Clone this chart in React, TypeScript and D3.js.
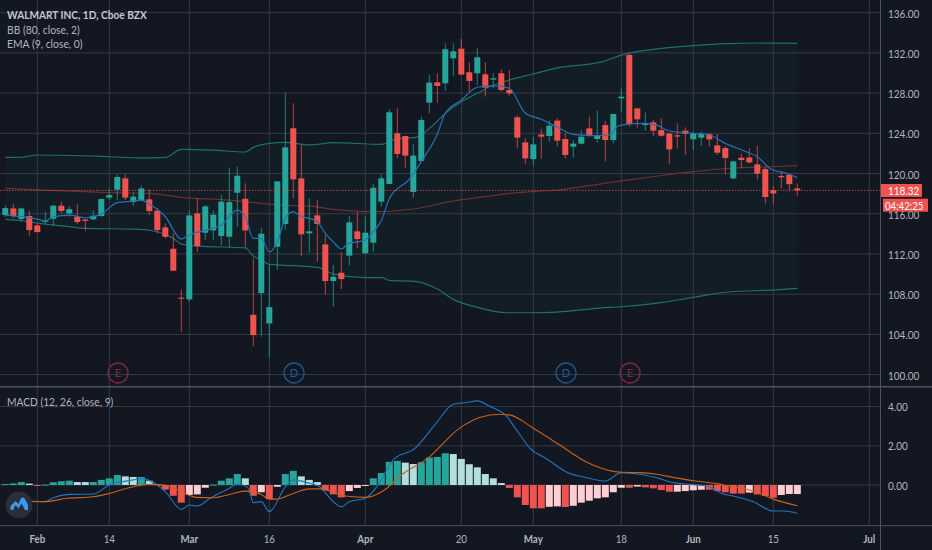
import React from "react";
import * as d3 from "d3";

const WIDTH = 932;
const HEIGHT = 550;
const PANE_RIGHT = 880.5;

const priceTicks = [136, 132, 128, 124, 120, 116, 112, 108, 104, 100];
const macdTicks = [4, 2, 0];
const timeTicks: [number, string, boolean][] = [
  [4, "Feb", true], [13, "14", false], [23, "Mar", true], [33, "16", false],
  [45, "Apr", true], [57, "20", false], [66, "May", true], [77, "18", false],
  [86, "Jun", true], [96, "15", false], [108, "Jul", true],
];

// open, high, low, close per trading day
const candles: [number, number, number, number][] = [
  [115.87,116.86,115.7,116.56],[116.53,117.03,115.54,115.77],[115.47,116.63,115.2,116.53],[115.77,116.3,113.8,114.37],
  [114.84,114.97,114.1,114.18],[115.2,116.2,115.0,115.3],[115.5,116.86,114.77,116.8],[116.8,117.2,116.0,116.27],
  [116.03,116.76,115.7,116.46],[115.7,116.96,114.97,115.17],[115.44,115.44,114.3,115.3],[115.44,116.36,115.37,115.8],
  [115.77,117.5,115.7,117.46],[117.6,118.5,117.36,117.86],[118.39,119.9,117.36,119.65],[119.52,119.95,117.36,117.6],
  [117.16,118.2,116.76,117.7],[117.36,118.8,117.26,118.52],[117.43,118.42,115.87,116.27],[116.3,116.53,114.04,114.37],
  [114.64,115.04,113.55,113.71],[112.52,114.04,110.33,110.33],[107.65,108.47,104.26,107.55],[107.48,116.3,107.24,115.83],
  [116.03,117.53,112.2,112.78],[114.11,116.86,113.38,116.73],[114.34,116.3,113.38,115.9],[113.78,117.86,112.88,117.2],
  [113.71,120.6,112.65,117.16],[118.09,120.68,114.7,119.78],[117.49,119.02,112.72,114.34],[105.95,111.56,102.83,103.93],
  [108.11,114.54,103.76,114.01],[105.09,110.89,101.77,106.71],[112.72,119.22,110.4,119.22],[114.98,128.04,114.38,122.6],
  [124.5,126.98,117.53,119.42],[119.52,122.84,111.83,113.95],[114.05,117.53,112.12,114.25],[115.84,117.37,111.23,114.98],
  [112.95,113.88,108.0,109.3],[109.3,110.9,106.75,109.73],[110.13,112.16,108.5,109.5],[111.83,115.77,110.9,115.14],
  [114.25,116.2,112.56,113.48],[112.06,115.7,112.06,114.11],[113.12,119.0,112.2,118.59],[117.2,119.95,116.7,119.52],
  [118.96,126.4,118.96,126.09],[124,126.5,121.5,121.94],[123.73,123.73,120.58,121.78],[118.16,122.9,117.6,121.78],
  [121.24,125.66,121.24,125.32],[127.05,129.8,125.99,129.04],[129.07,129.97,127.05,128.71],[128.97,132.95,128.2,132.36],
  [131.46,132.95,129.7,132.16],[132.42,133.38,129.84,129.84],[130.07,131.06,128.08,129.21],[129.97,132.46,128.8,131.56],
  [129.87,131.06,127.65,128.54],[129.34,129.97,128.48,129.47],[129.97,130.37,128.14,128.31],[128.31,130.3,127.75,127.98],
  [125.59,125.79,122.5,123.57],[123.1,123.5,121.0,121.51],[121.44,123.67,120.85,122.9],[123.87,124.43,121.5,123.67],
  [123.73,125.3,123.17,124.76],[125.26,125.5,122.7,123.27],[123.43,124,121.5,121.84],[122.67,123.33,121.57,122.97],
  [122.97,124.32,122.9,123.66],[124.49,125.65,123.66,123.73],[123.43,126.25,123.1,123.76],[124.82,125.22,121.24,123.33],
  [123.33,125.92,123,125.92],[127.48,128.47,126.15,127.64],[131.79,131.95,124.66,124.92],[126.48,126.48,124.56,125.39],
  [124.82,126.08,124.26,125],[125.09,125.32,123.73,124.26],[124.32,125.49,123.66,123.76],[123.99,123.99,120.94,122.4],
  [123.8,124.99,122.5,123.68],[124.26,124.59,121.84,123.93],[123.4,124.16,122.34,124],[123.56,124.16,122.73,123.93],
  [123.93,124.06,122.67,123.4],[122.8,123.93,121.84,122.07],[122.53,122.73,119.91,121.54],[119.52,121.27,119.42,121.21],
  [121.57,122,120.5,121.34],[121.6,122.5,121,121.11],[120.91,122.73,119.42,119.98],[120.44,120.68,117.03,117.66],
  [118.35,118.75,117.03,118.02],[119.75,120.18,118.52,119.62],[119.88,120,118.3,118.95],[118.52,119,117.76,118.32],
];
const lastPrice = 118.32;

// [bar index, value]
const bbUpper: [number, number][] = [
  [0,121.6],[2,121.62],[4,121.84],[13,121.67],[17,121.55],[20,121.6],[22,122.4],[26,122.33],[30,122.14],[31,122.6],
  [33,123],[35,123.1],[38,122.84],[41,123.07],[47,122.9],[49,123.45],[51.3,123.6],[53.5,124.83],[55,126],[57,127.15],
  [59,127.98],[61,128.8],[63,129.3],[66,129.9],[69,130.5],[74.5,131.1],[77.5,131.9],[81.5,132.4],[86,132.72],[90.2,132.92],[94.3,132.98],[99,132.95],
];
const bbLower: [number, number][] = [
  [0,115.44],[2,115.3],[5,114.97],[8,114.71],[10,114.54],[16,114.47],[19,114.21],[21,113.55],[22,112.98],[24,112.78],
  [30,112.6],[31,111.8],[32,111.4],[33,110.96],[36,110.83],[39,110.67],[41,110],[45,109.64],[47,109.64],[48,109.37],
  [51.2,109.27],[54,108.51],[56,107.48],[59,106.69],[62.7,106.15],[66,106.15],[69,106.22],[74.3,106.62],[77,106.75],
  [81.9,107.15],[86,107.68],[90.6,108.24],[96,108.41],[99,108.58],
];
const bbBasis: [number, number][] = [
  [0,118.52],[5,118.35],[13,118.09],[18,118.02],[22,117.63],[28,117.36],[32,117.03],[35,116.83],[38,116.76],[41,116.44],
  [46,116.2],[51,116.47],[55.6,117.2],[60,117.7],[64,118.1],[69,118.36],[73.5,118.85],[77.7,119.35],[81.8,119.78],
  [86,120.18],[90.2,120.5],[94.3,120.64],[99,120.78],
];
const ema: [number, number][] = [
  [0,115.87],[2,115.7],[4,115.47],[5,115.3],[6,115.7],[8,115.87],[10,115.6],[12,115.97],[14,117.1],[16,117.26],[17,117.36],
  [18,116.96],[20,115.7],[22,113.48],[23,113.88],[25,114.37],[27,114.87],[29,116.36],[30,115.7],[31,113.55],[32,113.55],
  [33,112.2],[34,113.2],[35,115.54],[36,116.2],[37,115.7],[38,115.54],[39,115.2],[40,114.05],[41,113.2],[42,112.5],
  [43,113.1],[44,113.2],[45,113.4],[46,114.2],[47,115.3],[48,117.5],[50.6,119.52],[52,121.18],[54,123.9],[55,126],[57,127.3],
  [59,128.58],[61,128.71],[63,128.48],[65,126],[67,125.4],[69,124.6],[71,123.9],[73.5,123.76],[75.5,123.83],[76.6,124.72],
  [77.7,124.9],[79.7,124.99],[81.4,124.82],[83,124.23],[86,124],[87.7,123.93],[90,123],[92.6,122.17],[94,121.67],[95.6,120.5],[97.7,120],[99,119.6],
];

const histValues = [
  0.05,0.08,0.15,0.07,-0.03,0.02,0.14,0.19,0.22,0.15,0.15,0.15,0.26,0.34,0.51,0.44,0.41,0.41,0.22,0.05,
  -0.24,-0.55,-0.9,-0.51,-0.48,-0.14,0.02,0.22,0.34,0.56,0.34,-0.55,-0.37,-0.72,-0.09,0.56,0.72,0.44,0.26,0.15,
  -0.27,-0.48,-0.63,-0.31,-0.15,-0.02,0.34,0.61,1.18,1.23,1.14,1.07,1.16,1.4,1.43,1.62,1.58,1.33,1.06,0.9,
  0.56,0.34,0.1,-0.15,-0.63,-1.02,-1.19,-1.19,-1.11,-1.09,-1.12,-1.06,-0.9,-0.8,-0.68,-0.63,-0.37,-0.14,-0.14,-0.08,
  -0.12,-0.17,-0.26,-0.34,-0.34,-0.31,-0.27,-0.24,-0.24,-0.31,-0.37,-0.44,-0.44,-0.39,-0.48,-0.56,-0.65,-0.51,-0.46,-0.46,
];
// 1 = saturated bar, 0 = pale bar
const histStrong = [
  1,1,1,0,1,1,1,1,1,0,0,1,1,1,1,0,0,1,0,0,
  1,1,1,0,0,0,1,1,1,1,0,1,0,1,0,1,1,0,0,0,
  1,1,1,0,0,0,1,1,1,1,0,0,1,1,1,1,0,0,0,0,
  0,0,0,1,1,1,1,1,0,0,1,0,0,0,0,0,0,0,1,0,
  1,1,1,1,0,0,0,0,1,1,1,1,1,0,1,1,1,0,0,0,
];
const macdLine: [number, number][] = [
  [1,-0.8],[3.5,-0.85],[5,-0.85],[6,-0.65],[8,-0.48],[11,-0.46],[13,0],[16,0.26],[17,0.34],[19,0],[20,-0.34],[22,-1.24],
  [23,-1.02],[24,-1.07],[25.6,-0.68],[28,-0.17],[29,0.05],[30.4,-0.17],[31,-0.9],[32,-0.85],[33,-1.36],[35,-0.09],[36,0.26],
  [38,0.09],[39.3,-0.09],[40.6,-0.68],[42,-1.11],[43,-0.85],[45,-0.68],[46.6,0],[48.5,1.28],[51.2,1.87],[53.7,3.07],[56,4.12],
  [57.7,4.21],[59,4.29],[60.6,4.0],[62.7,3.49],[63.9,2.81],[65.6,1.87],[67.7,1.33],[70.2,0.65],[72.7,0.37],[75,0.2],[77,0.63],
  [79.3,0.55],[81.4,0.37],[83.5,0.12],[85.6,0.03],[87.7,-0.05],[89.75,-0.46],[91,-0.56],[93.5,-0.85],[96,-1.33],[97.25,-1.33],[99,-1.45],
];
const signalLine: [number, number][] = [
  [1,-0.82],[3.5,-0.83],[5,-0.85],[7.7,-0.68],[11,-0.6],[13,-0.43],[16,-0.09],[17.7,0.03],[19.8,0],[22,-0.34],[23.9,-0.63],
  [26,-0.65],[28.5,-0.43],[30,-0.31],[32,-0.48],[33,-0.72],[33.9,-0.72],[36,-0.43],[38,-0.2],[39.3,-0.2],[42.5,-0.56],[45.2,-0.63],
  [47.2,-0.31],[49.8,0.6],[52.7,1.33],[56.8,2.9],[59.3,3.44],[61.8,3.61],[63,3.58],[66,2.9],[69.3,2.04],[72.7,1.16],[75.2,0.77],
  [77,0.65],[79.3,0.63],[81.4,0.55],[83.5,0.39],[86,0.22],[88.9,0.07],[90.2,-0.03],[93.5,-0.31],[96,-0.72],[99,-1.06],
];

const eventMarks: [number, string][] = [[14, "E"], [36, "D"], [70, "D"], [78, "E"]];

const FONT = "Lato, 'Noto Sans', sans-serif";
const BG = "#131722";
const GRID = "#363a45";
const TEXT = "#b2b5be";
const RED = "#ef5350";
const GREEN = "#26a69a";
const PALE_RED = "#ffcdd2";
const PALE_GREEN = "#b2dfdb";

// Text with horizontal condensing, to match the reference's narrow face.
function T({ x, y, s, size = 11.5, sx = 0.87, anchor = "start", weight = 400, fill = TEXT }: any) {
  return (
    <text transform={`translate(${x},${y}) scale(${sx},1)`} fontSize={size} textAnchor={anchor} fontWeight={weight} fill={fill}>
      {s}
    </text>
  );
}

export default function App() {
  const x = d3.scaleLinear().domain([0, 99]).range([5.3, 797.3]);
  const y = d3.scaleLinear().domain([100, 124]).range([374.6, 133.3]);
  const ym = d3.scaleLinear().domain([0, 4]).range([485, 406.6]);

  const priceLine = d3.line<[number, number]>().x((d) => x(d[0])).y((d) => y(d[1])).curve(d3.curveMonotoneX);
  const macdPath = d3.line<[number, number]>().x((d) => x(d[0])).y((d) => ym(d[1])).curve(d3.curveMonotoneX);

  const up = priceLine(bbUpper) as string;
  const low = priceLine([...bbLower].reverse()) as string;
  const bandFill = up + "L" + low.slice(1) + "Z";

  return (
    <svg width={WIDTH} height={HEIGHT} style={{ position: "fixed", left: 0, top: 0, background: BG, fontFamily: FONT }}>
      <rect width={WIDTH} height={HEIGHT} fill={BG} />
      <path d={bandFill} fill={GREEN} opacity={0.04} />

      {/* grid */}
      {priceTicks.map((t) => (
        <line key={t} x1={0} x2={PANE_RIGHT} y1={y(t)} y2={y(t)} stroke={GRID} />
      ))}
      {macdTicks.map((t) => (
        <line key={t} x1={0} x2={PANE_RIGHT} y1={ym(t)} y2={ym(t)} stroke={GRID} />
      ))}
      {timeTicks.map(([i]) => (
        <line key={i} x1={x(i)} x2={x(i)} y1={0} y2={525.5} stroke={GRID} />
      ))}
      <line x1={0} x2={WIDTH} y1={386.7} y2={386.7} stroke="#50535e" strokeWidth={1.5} />
      <line x1={0} x2={WIDTH} y1={525.7} y2={525.7} stroke="#50535e" />
      <line x1={PANE_RIGHT} x2={PANE_RIGHT} y1={0} y2={HEIGHT} stroke="#50535e" />

      {/* Bollinger bands */}
      <path d={up} fill="none" stroke="#1f6f6b" strokeWidth={1.2} />
      <path d={priceLine(bbLower) as string} fill="none" stroke="#1f6f6b" strokeWidth={1.2} />
      <path d={priceLine(bbBasis) as string} fill="none" stroke="#6e2f33" strokeWidth={1.2} />

      {/* candles */}
      {candles.map(([o, h, l, c], i) => {
        const color = c >= o ? GREEN : RED;
        const top = y(Math.max(o, c));
        const bot = y(Math.min(o, c));
        return (
          <g key={i}>
            <line x1={x(i)} x2={x(i)} y1={y(h)} y2={y(l)} stroke={color} opacity={0.75} />
            <rect x={x(i) - 3} y={top} width={6} height={Math.max(bot - top, 1)} fill={color} />
          </g>
        );
      })}

      <path d={priceLine(ema) as string} fill="none" stroke="#2473b5" strokeWidth={1.2} />

      {/* last price line */}
      <line x1={0} x2={PANE_RIGHT} y1={y(lastPrice)} y2={y(lastPrice)} stroke={RED} strokeOpacity={0.7} strokeDasharray="1.5 1.5" />

      {/* events */}
      {eventMarks.map(([i, s], k) => {
        const col = s === "E" ? "#7d2b44" : "#1a5c94";
        return (
          <g key={k}>
            <circle cx={x(i) + 0.7} cy={373} r={10} fill="none" stroke={col} strokeWidth={1.3} />
            <text x={x(i) + 0.7} y={377} fontSize={11} textAnchor="middle" fill={col}>{s}</text>
          </g>
        );
      })}

      {/* MACD */}
      {histValues.map((v, i) => {
        const strong = histStrong[i] === 1;
        const color = v >= 0 ? (strong ? GREEN : PALE_GREEN) : strong ? RED : PALE_RED;
        const a = ym(Math.max(v, 0));
        const b = ym(Math.min(v, 0));
        return <rect key={i} x={x(i) - 3.5} y={a} width={7} height={Math.max(b - a, 1)} fill={color} />;
      })}
      <path d={macdPath(macdLine) as string} fill="none" stroke="#1f77c0" strokeWidth={1.1} />
      <path d={macdPath(signalLine) as string} fill="none" stroke="#c9621a" strokeWidth={1.1} />

      {/* logo */}
      <circle cx={19} cy={505} r={13.5} fill="#2a2e39" />
      <path d="M10.5 510 L10.5 506 L15.5 501 L18.5 504 L21 498.5 Q23 496.5 25 499 L28 505 L28 510 L25 510 L21.5 503.5 L18.5 508.5 L15.5 505 L13 510 Z" fill="#3a9bee" />

      {/* legends */}
      <T x={7} y={19} s="WALMART INC, 1D, Cboe BZX" sx={0.88} weight={700} fill="#c5c8d0" />
      <T x={7} y={33.5} s="BB (80, close, 2)" sx={0.9} />
      <T x={7} y={48} s="EMA (9, close, 0)" sx={0.9} />
      <T x={7} y={406} s="MACD (12, 26, close, 9)" sx={0.89} />

      {/* axes */}
      {priceTicks.map((t) => (
        <T key={t} x={888} y={y(t) + 5} s={t.toFixed(2)} />
      ))}
      {macdTicks.map((t) => (
        <T key={t} x={888} y={ym(t) + 4.5} s={t.toFixed(2)} />
      ))}
      {timeTicks.map(([i, s, major]) => (
        <T key={i} x={x(i)} y={542.5} s={s} anchor="middle" weight={major ? 700 : 400} sx={0.85} />
      ))}

      {/* price tags */}
      <rect x={881} y={184} width={41} height={13} fill={RED} />
      <T x={888} y={194.5} s={lastPrice.toFixed(2)} fill="#fff" />
      <rect x={883} y={198.7} width={45} height={13} fill={RED} />
      <T x={885} y={209.5} s="04:42:25" fill="#fff" sx={0.84} />
    </svg>
  );
}
